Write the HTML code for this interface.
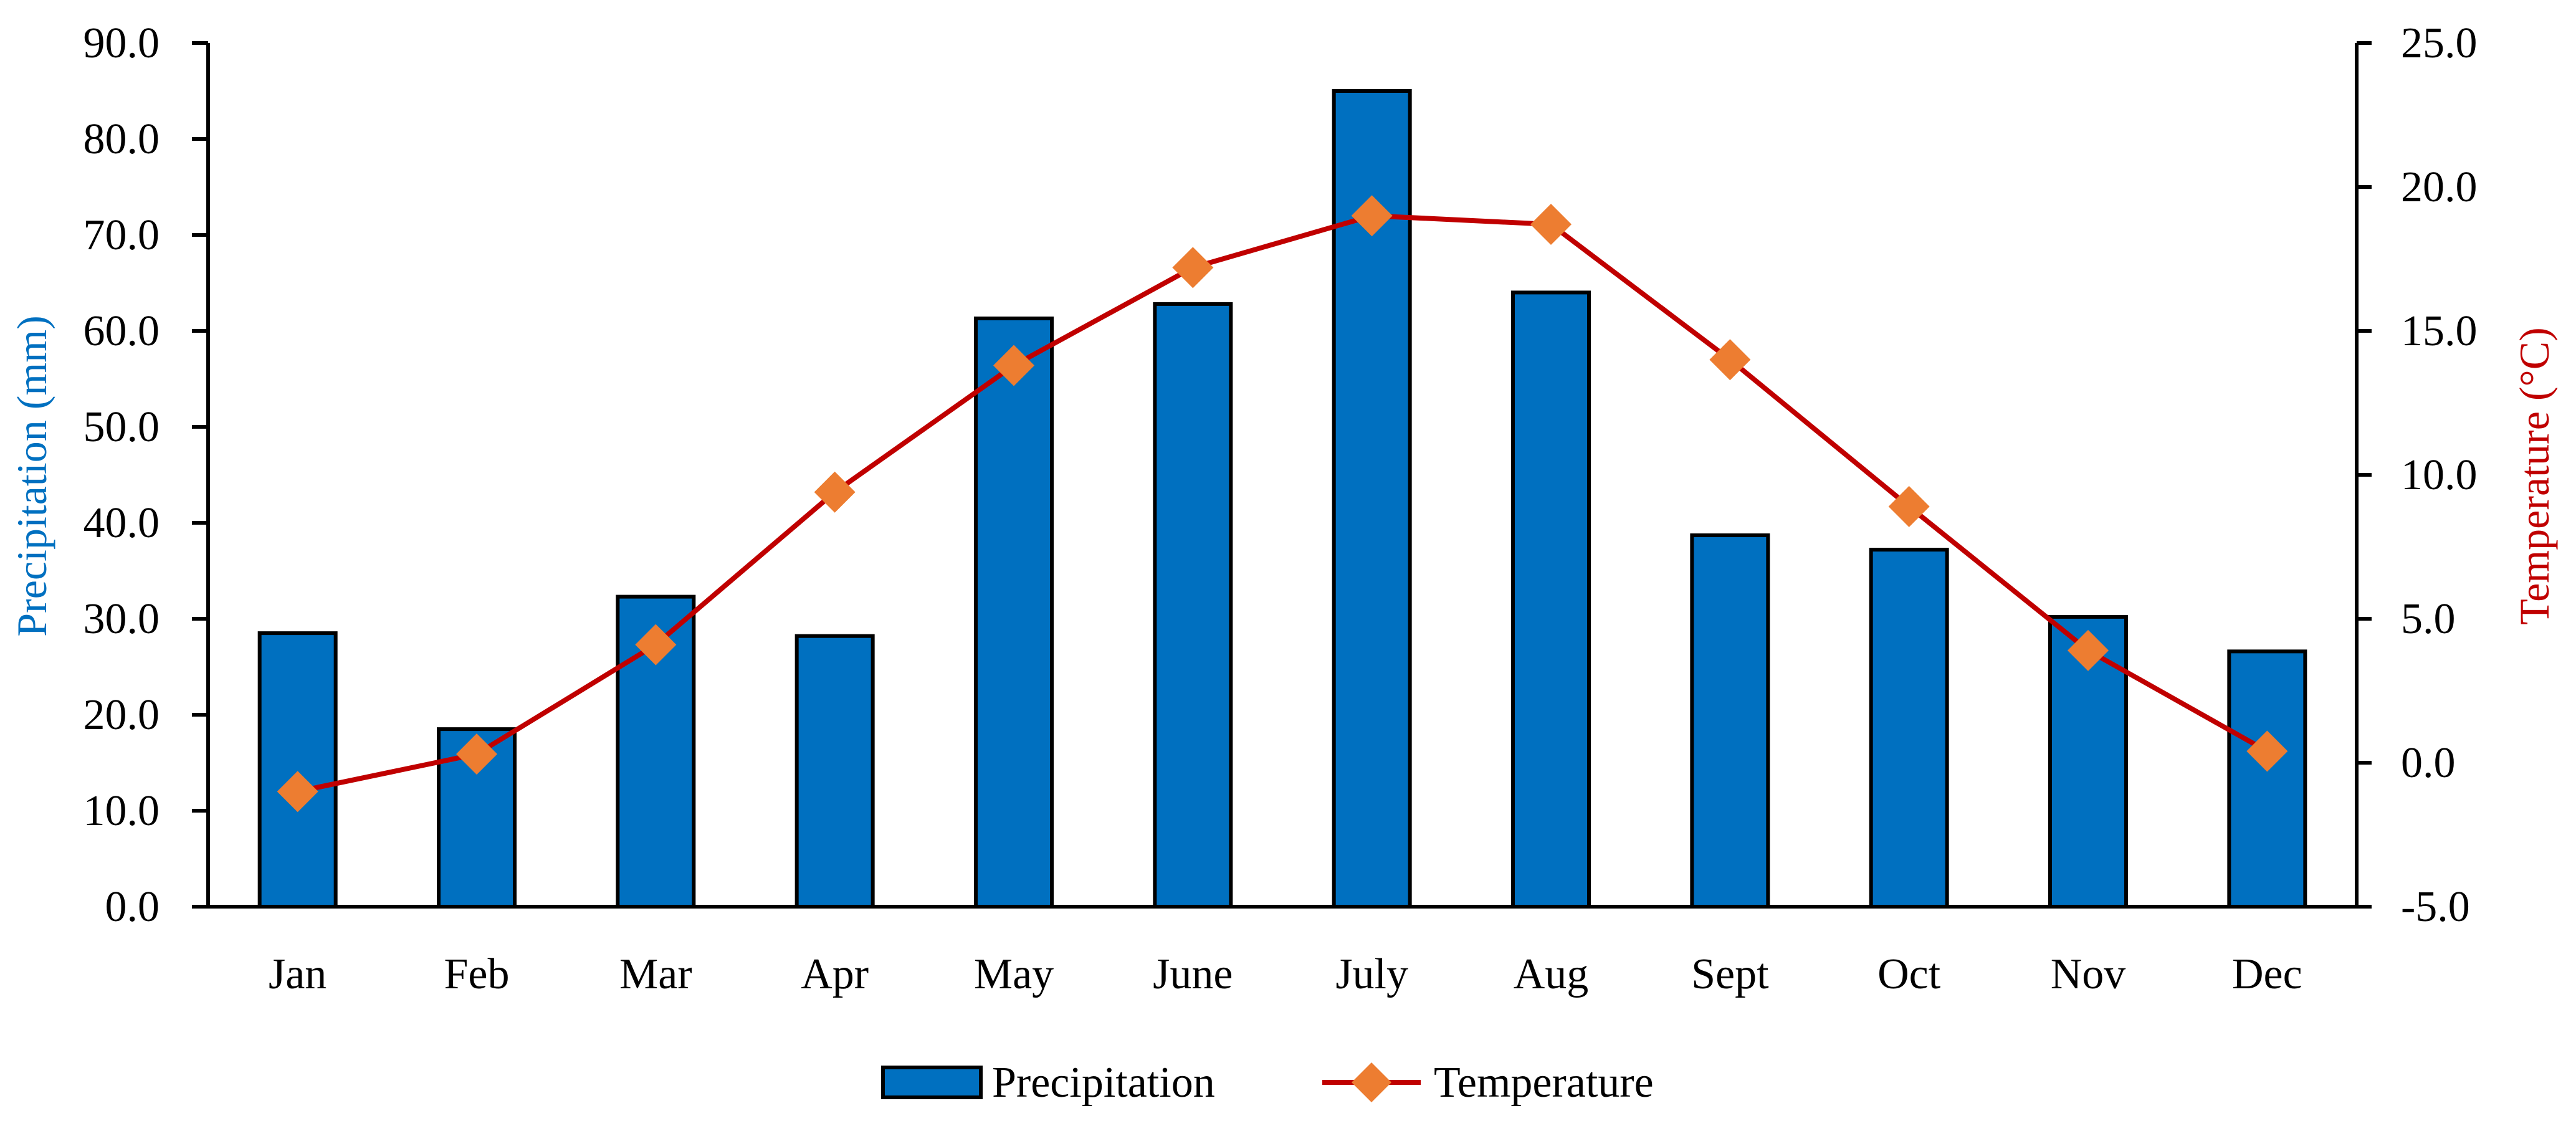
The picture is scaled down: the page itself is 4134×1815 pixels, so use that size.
<!DOCTYPE html>
<html><head><meta charset="utf-8"><style>
html,body{margin:0;padding:0;background:#fff;}
svg{display:block;font-family:"Liberation Serif",serif;}
</style></head><body>
<svg id="chart" width="4134" height="1815" viewBox="0 0 4134 1815" xmlns="http://www.w3.org/2000/svg">
<g id="bars"></g><g id="line"></g><g id="axes"></g>
<text x="0" y="0" transform="translate(74,764) rotate(-90)" text-anchor="middle" font-size="68" fill="#0070C0">Precipitation (mm)</text>
<text x="0" y="0" transform="translate(4090,764) rotate(-90)" text-anchor="middle" font-size="68" fill="#C00000">Temperature (°C)</text>
<g>
<rect x="1417" y="1713" width="157" height="48" fill="#0070C0" stroke="#000" stroke-width="6"/>
<text x="1592" y="1760" font-size="70">Precipitation</text>
<line x1="2122" y1="1737" x2="2280" y2="1737" stroke="#C00000" stroke-width="8"/>
<polygon points="2201,1705 2233,1737 2201,1769 2169,1737" fill="#ED7D31"/>
<text x="2301" y="1760" font-size="70">Temperature</text>
</g>
</svg>
<script>
const months = ["Jan","Feb","Mar","Apr","May","June","July","Aug","Sept","Oct","Nov","Dec"];
const precipitation = [28.5,18.5,32.3,28.2,61.3,62.8,85.0,64.0,38.7,37.2,30.2,26.6];
const temperature = [-1.0,0.3,4.1,9.4,13.8,17.2,19.0,18.7,14.0,8.9,3.9,0.4];
const leftTicks = [0,10,20,30,40,50,60,70,80,90];
const rightTicks = [-5,0,5,10,15,20,25];

const NS="http://www.w3.org/2000/svg";
const X0=334,X1=3782,YT=69,YB=1455;
const band=(X1-X0)/months.length;
const xC=i=>X0+band*(i+0.5);
const yL=v=>YB-(v-0)/(90-0)*(YB-YT);
const yR=v=>YB-(v+5)/(30)*(YB-YT);
function mk(tag,attrs,parent){const e=document.createElementNS(NS,tag);for(const k in attrs)e.setAttribute(k,attrs[k]);parent.appendChild(e);return e;}
const gB=document.getElementById('bars'),gL=document.getElementById('line'),gA=document.getElementById('axes');
const bw=122;
precipitation.forEach((v,i)=>{
  const r=mk('rect',{x:xC(i)-bw/2,y:yL(v),width:bw,height:yL(0)-yL(v),fill:'#0070C0',stroke:'#000','stroke-width':6},gB);
  
  
});
const pl=mk('polyline',{points:temperature.map((v,i)=>xC(i)+','+yR(v)).join(' '),fill:'none',stroke:'#C00000','stroke-width':8,'stroke-linejoin':'round'},gL);


temperature.forEach((v,i)=>{
  const x=xC(i),y=yR(v);
  const p=mk('polygon',{points:`${x},${y-33} ${x+33},${y} ${x},${y+33} ${x-33},${y}`,fill:'#ED7D31'},gL);
  
  
});
const la=mk('line',{x1:X0,y1:YT,x2:X0,y2:YB,stroke:'#000','stroke-width':6},gA);


const ra=mk('line',{x1:X1,y1:YT,x2:X1,y2:YB,stroke:'#000','stroke-width':6},gA);


const xa=mk('line',{x1:308,y1:YB,x2:3806,y2:YB,stroke:'#000','stroke-width':6},gA);


leftTicks.forEach(v=>{
  const y=yL(v);
  mk('line',{x1:308,y1:y,x2:X0,y2:y,stroke:'#000','stroke-width':6},gA);
  const t=mk('text',{x:256,y:y+23,'text-anchor':'end','font-size':70},gA);
  t.textContent=v.toFixed(1);
  
  
});
rightTicks.forEach(v=>{
  const y=yR(v);
  mk('line',{x1:X1,y1:y,x2:3806,y2:y,stroke:'#000','stroke-width':6},gA);
  const t=mk('text',{x:3853,y:y+23,'text-anchor':'start','font-size':70},gA);
  t.textContent=v.toFixed(1);
  
  
});
months.forEach((m,i)=>{
  const t=mk('text',{x:xC(i),y:1586,'text-anchor':'middle','font-size':70},gA);
  t.textContent=m;
  
  
});
</script>
</body></html>
